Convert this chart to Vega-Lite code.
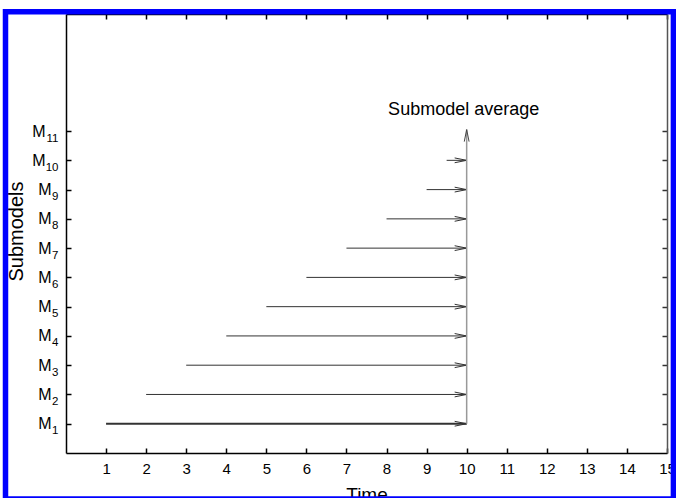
{
  "$schema": "https://vega.github.io/schema/vega-lite/v6.json",
  "width": 601,
  "height": 439,
  "autosize": {"type": "none"},
  "padding": {"left": 66, "top": 14, "right": 9, "bottom": 45},
  "background": "white",
  "config": {
    "view": {"stroke": null},
    "font": "Liberation Sans",
    "axis": {"labelFont": "Liberation Sans", "titleFont": "Liberation Sans", "grid": false, "labelColor": "black", "titleColor": "black", "titleFontWeight": "normal", "tickColor": "black", "domainColor": "black"}
  },
  "datasets": {
    "arrows": [
      {"model": 1, "start": 1, "end": 10},
      {"model": 2, "start": 2, "end": 10},
      {"model": 3, "start": 3, "end": 10},
      {"model": 4, "start": 4, "end": 10},
      {"model": 5, "start": 5, "end": 10},
      {"model": 6, "start": 6, "end": 10},
      {"model": 7, "start": 7, "end": 10},
      {"model": 8, "start": 8, "end": 10},
      {"model": 9, "start": 9, "end": 10},
      {"model": 10, "start": 9.5, "end": 10}
    ],
    "note": [{"label": "Submodel average", "x": 10, "y": 11.72}]
  },
  "resolve": {"axis": {"x": "independent", "y": "independent"}},
  "layer": [
    {
      "data": {"name": "arrows"},
      "mark": {"type": "rule", "color": "#333333"},
      "encoding": {
        "x": {
          "field": "start", "type": "quantitative",
          "scale": {"domain": [0, 15], "nice": false, "zero": false},
          "axis": {
            "orient": "bottom", "values": [1,2,3,4,5,6,7,8,9,10,11,12,13,14,15],
            "tickSize": -5, "tickWidth": 1.5, "domainWidth": 1.5,
            "labelFontSize": 15, "labelPadding": 13, "labelFlush": false, "labelOverlap": false,
            "title": "Time", "titleFontSize": 19, "titleY": 32, "titleBaseline": "top"
          }
        },
        "x2": {"field": "end"},
        "y": {
          "field": "model", "type": "quantitative",
          "scale": {"domain": [0, 15], "nice": false, "zero": false},
          "axis": {
            "orient": "left", "values": [1,2,3,4,5,6,7,8,9,10,11],
            "labelExpr": "'M'",
            "tickSize": -5, "tickWidth": 1.5, "domainWidth": 1.5,
            "labelFontSize": 16, "labelBaseline": "middle",
            "labelPadding": {"condition": {"test": "datum.value >= 10", "value": 26}, "value": 20},
            "labelFlush": false, "labelOverlap": false,
            "title": "Submodels", "titleFontSize": 20, "titleX": -44, "titleY": 217, "titleBaseline": "alphabetic"
          }
        },
        "strokeWidth": {"condition": {"test": "datum.model == 1", "value": 2}, "value": 1}
      }
    },
    {
      "data": {"name": "arrows"},
      "mark": {"type": "point", "shape": "M-1,-0.2L0,0L-1,0.2", "filled": false, "size": 576, "color": "#333333", "strokeWidth": 1, "opacity": 1},
      "encoding": {
        "x": {
          "field": "end", "type": "quantitative",
          "axis": {"orient": "top", "values": [1,2,3,4,5,6,7,8,9,10,11,12,13,14,15], "labels": false, "title": null, "tickSize": -5, "tickWidth": 1.5, "domainWidth": 1.5}
        },
        "y": {
          "field": "model", "type": "quantitative",
          "axis": {"orient": "right", "values": [1,2,3,4,5,6,7,8,9,10,11], "labels": false, "title": null, "tickSize": -5, "tickWidth": 1.5, "domainWidth": 1.5, "domainColor": "#555555", "tickColor": "#333333"}
        }
      }
    },
    {
      "data": {"name": "note"},
      "mark": {"type": "rule", "color": "#999999", "strokeWidth": 1.5},
      "encoding": {
        "x": {"field": "x", "type": "quantitative", "axis": null},
        "y": {
          "datum": 1, "type": "quantitative",
          "axis": {
            "orient": "left", "values": [1,2,3,4,5,6,7,8,9,10,11],
            "domain": false, "ticks": false, "title": null,
            "labelFontSize": 11.5, "labelBaseline": "middle", "labelOffset": 7, "labelPadding": 8,
            "labelFlush": false, "labelOverlap": false
          }
        },
        "y2": {"datum": 11.05}
      }
    },
    {
      "data": {"name": "note"},
      "mark": {"type": "point", "shape": "M-0.2,1L0,0L0.2,1", "filled": false, "size": 576, "color": "#444444", "strokeWidth": 1, "opacity": 1},
      "encoding": {
        "x": {"field": "x", "type": "quantitative", "axis": null},
        "y": {"datum": 11.05, "type": "quantitative", "axis": null}
      }
    },
    {
      "data": {"name": "note"},
      "mark": {"type": "text", "fontSize": 18, "align": "center", "baseline": "middle", "color": "black", "dx": -3},
      "encoding": {
        "x": {"field": "x", "type": "quantitative", "axis": null},
        "y": {"field": "y", "type": "quantitative", "axis": null},
        "text": {"field": "label"}
      }
    },
    {
      "data": {"values": [{}]},
      "mark": {"type": "rect", "fill": "transparent", "stroke": "#0000ff", "strokeWidth": 5.5},
      "encoding": {
        "x": {"datum": -1.51, "type": "quantitative", "axis": null},
        "x2": {"datum": 15.16},
        "y": {"datum": 15.077, "type": "quantitative", "axis": null},
        "y2": {"datum": -1.57}
      }
    }
  ]
}
